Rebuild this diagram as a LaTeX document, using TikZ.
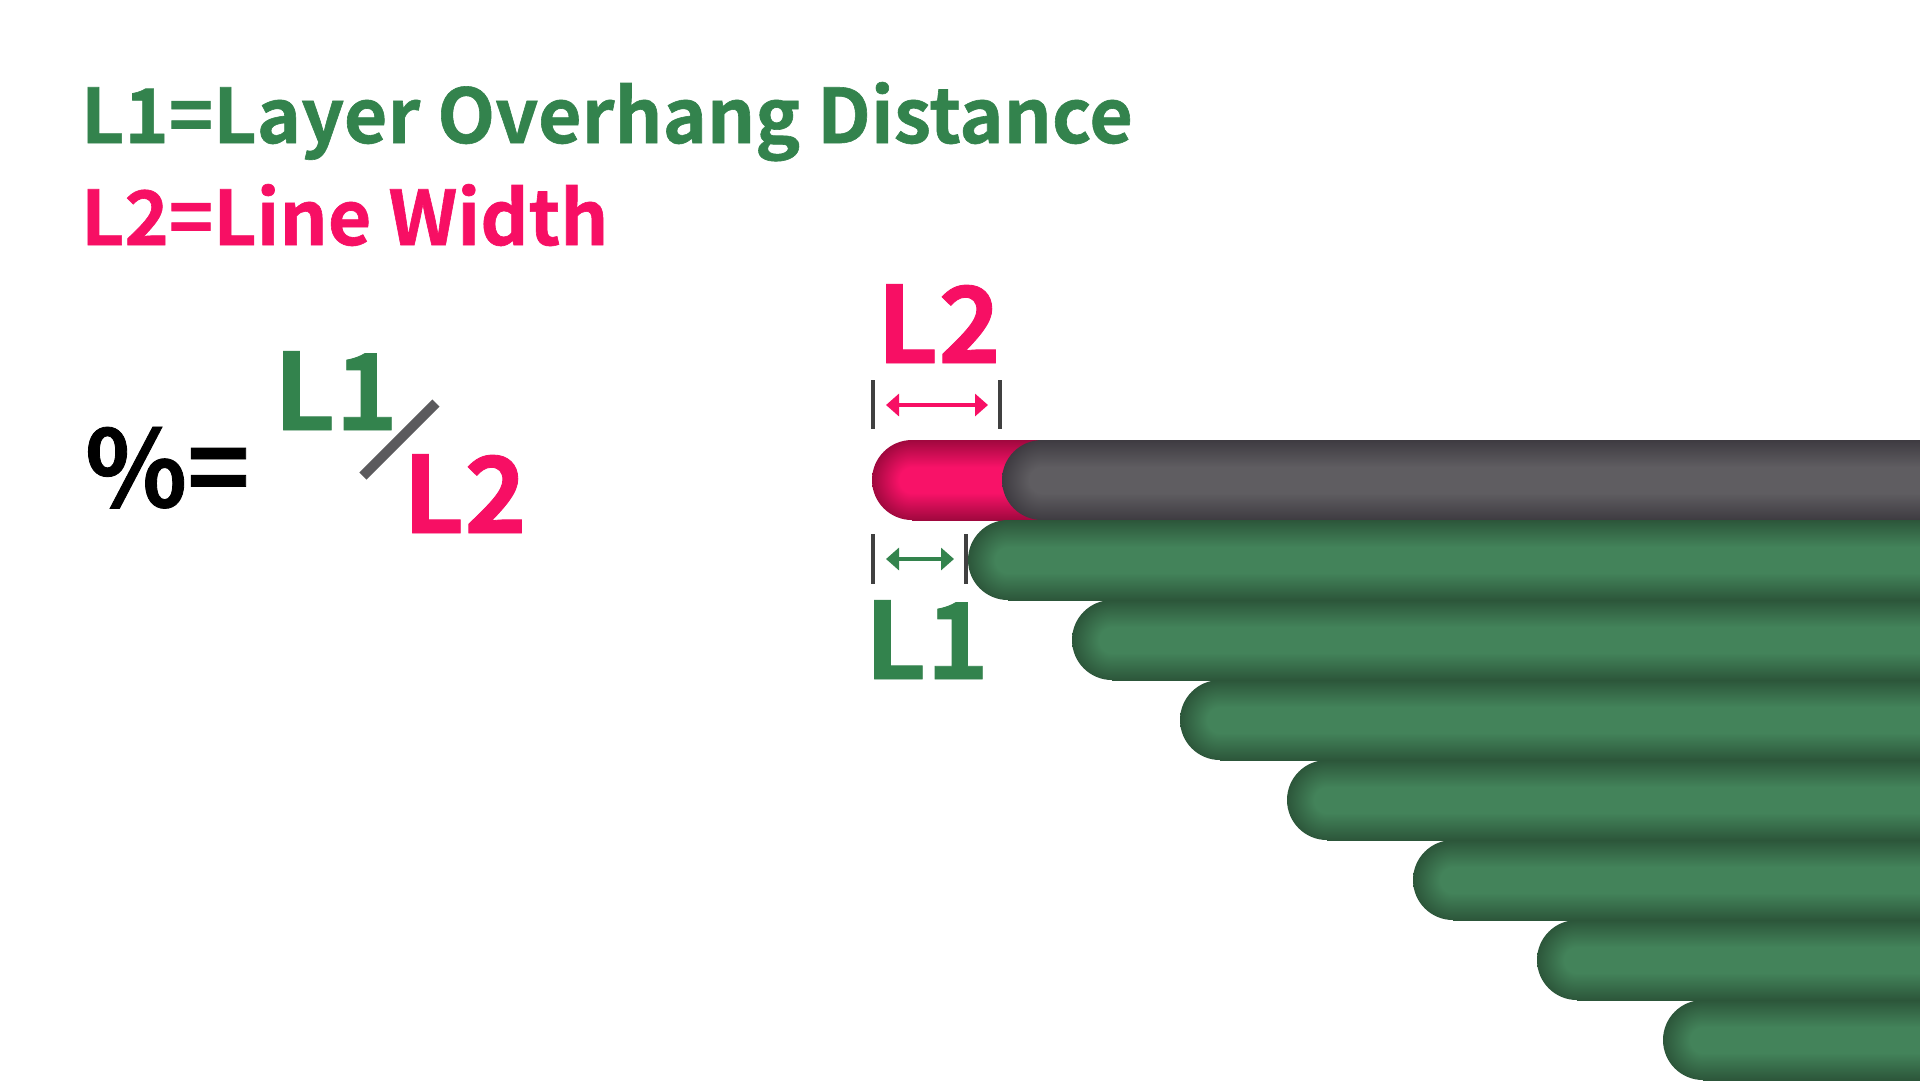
\documentclass[tikz,border=0pt]{standalone}
\usepackage{fontspec}
\newfontfamily\srcb{Noto Sans CJK SC}[BoldFont={Noto Sans CJK SC Bold},BoldFeatures={FakeBold=0.8}]
\usetikzlibrary{arrows.meta}
\definecolor{tgreen}{HTML}{33834D}
\definecolor{tpink}{HTML}{F70F64}
\definecolor{slashgray}{HTML}{5B5A5D}
\definecolor{tickgray}{HTML}{404040}
\definecolor{gL}{HTML}{43835A}
\definecolor{gD}{HTML}{2C563A}
\definecolor{kL}{HTML}{5F5D61}
\definecolor{kD}{HTML}{3E3B41}
\definecolor{pL}{HTML}{F81268}
\definecolor{pD}{HTML}{A0083E}
\pgfdeclareverticalshading{barG}{100bp}{color(0bp)=(gD); color(25bp)=(gD); color(42bp)=(gL); color(58bp)=(gL); color(75bp)=(gD); color(100bp)=(gD)}
\pgfdeclareradialshading{capG}{\pgfpoint{0bp}{0bp}}{color(0bp)=(gL); color(8bp)=(gL); color(25bp)=(gD); color(50bp)=(gD)}
\pgfdeclareverticalshading{barK}{100bp}{color(0bp)=(kD); color(25bp)=(kD); color(42bp)=(kL); color(58bp)=(kL); color(75bp)=(kD); color(100bp)=(kD)}
\pgfdeclareradialshading{capK}{\pgfpoint{0bp}{0bp}}{color(0bp)=(kL); color(8bp)=(kL); color(25bp)=(kD); color(50bp)=(kD)}
\pgfdeclareverticalshading{barP}{100bp}{color(0bp)=(pD); color(25bp)=(pD); color(42bp)=(pL); color(58bp)=(pL); color(75bp)=(pD); color(100bp)=(pD)}
\pgfdeclareradialshading{capP}{\pgfpoint{0bp}{0bp}}{color(0bp)=(pL); color(8bp)=(pL); color(25bp)=(pD); color(50bp)=(pD)}
\newcommand\strand[3]{%
  \shade[shading=cap#3] (#1+40,#2+40) circle[radius=40];
  \shade[shading=bar#3] (#1+40,#2) rectangle (1920,#2+80);
}
\begin{document}
\begin{tikzpicture}[x=0.1mm,y=-0.1mm,
  txt/.style={anchor=base west,inner sep=0pt,outer sep=0pt},
  titlefont/.style={font=\srcb\bfseries\fontsize{21.4pt}{26pt}\selectfont},
  bigfont/.style={font=\srcb\bfseries\fontsize{30.2pt}{36pt}\selectfont},
  tick/.style={draw=tickgray,line width=0.4mm},
  dimarrow/.style={line width=0.47mm,{Triangle[length=1.3mm,width=2.2mm]}-{Triangle[length=1.3mm,width=2.2mm]}}]
\useasboundingbox (0,0) rectangle (1920,1080);
\fill[white] (0,0) rectangle (1920,1080);
\begin{scope}
\clip (0,0) rectangle (1920,1080);
% filament strands
\strand{872}{440}{P}
\strand{1002}{440}{K}
\strand{968}{520}{G}
\strand{1072}{600}{G}
\strand{1180}{680}{G}
\strand{1287}{760}{G}
\strand{1413}{840}{G}
\strand{1537}{920}{G}
\strand{1663}{1000}{G}
\end{scope}
% titles
\node[txt,titlefont,text=tgreen] (t1) at (81,143) {L1=Layer Overhang Distance};
\node[txt,titlefont,text=tpink] (t2) at (81,245) {L2=Line Width};
% formula
\node[txt,bigfont,text=black] (pct) at (85,507) {\%=};
\node[txt,bigfont,text=tgreen] (fl1) at (274,430) {L1};
\node[txt,bigfont,text=tpink] (fl2) at (403,533) {L2};
\coordinate (sa) at (363,476);
\coordinate (sb) at (436,403);
\draw[slashgray,line width=1mm] (sa) -- (sb);
% L2 dimension
\node[txt,bigfont,text=tpink] (lab2) at (877,363) {L2};
\coordinate (k1a) at (873,380); \coordinate (k1b) at (873,429);
\coordinate (k2a) at (1000,380); \coordinate (k2b) at (1000,429);
\draw[tick] (k1a) -- (k1b);
\draw[tick] (k2a) -- (k2b);
\coordinate (a2l) at (886,405); \coordinate (a2r) at (988,405);
\draw[dimarrow,tpink] (a2l) -- (a2r);
% L1 dimension
\node[txt,bigfont,text=tgreen] (lab1) at (865,679) {L1};
\coordinate (k3a) at (873,534); \coordinate (k3b) at (873,584);
\coordinate (k4a) at (966,534); \coordinate (k4b) at (966,584);
\draw[tick] (k3a) -- (k3b);
\draw[tick] (k4a) -- (k4b);
\coordinate (a1l) at (886,559); \coordinate (a1r) at (954,559);
\draw[dimarrow,tgreen] (a1l) -- (a1r);
\end{tikzpicture}
\end{document}
